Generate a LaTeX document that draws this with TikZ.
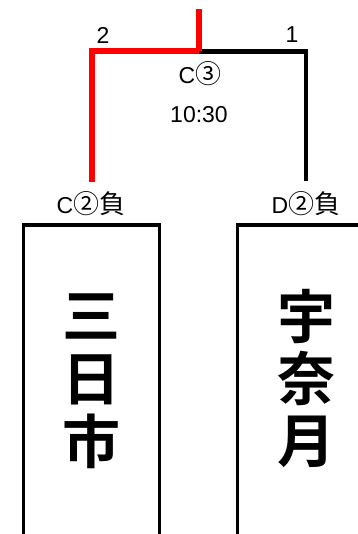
\documentclass[tikz,border=0pt]{standalone}
\usepackage{fontspec}
\setmainfont{Liberation Sans}
\newfontfamily\cjk{Noto Sans CJK JP}
\newfontfamily\cjkbold{Noto Sans CJK JP Bold}
\newcommand{\cjkmid}[1]{{\cjk\fontsize{26}{26}\selectfont #1}}
\begin{document}
\begin{tikzpicture}[x=1pt,y=-1pt,
  win/.style={draw=red,line width=6pt},
  lose/.style={draw=black,line width=4.5pt},
  boxline/.style={draw=black,line width=3pt},
  small/.style={inner sep=0pt,font=\fontsize{23}{23}\selectfont},
  big/.style={inner sep=0pt,font=\cjkbold\fontsize{58}{58}\selectfont}]
\useasboundingbox (0,0) rectangle (357,534);
% bracket coordinates
\coordinate (top) at (198.5,9);
\coordinate (mid) at (198.5,51.5);
\coordinate (lt) at (92,51.5);
\coordinate (lb) at (92,182);
\coordinate (rt) at (306,51.5);
\coordinate (rb) at (306,181);
\draw[lose] (mid) -- (rt) -- (rb);
\draw[win,line cap=butt] (top) -- (mid);
\draw[win] (mid) -- (lt) -- (lb);
% labels
\node[small] (n2) at (103,35) {2};
\node[small] (n1) at (292,35) {1};
\node[small] (c3) at (200,74) {C\cjkmid{③}};
\node[small] (time) at (199,115) {10:30};
\node[small] (lab1) at (91,204) {C\cjkmid{②負}};
\node[small] (lab2) at (306,204) {D\cjkmid{②負}};
% boxes (open at bottom/right)
\draw[boxline] (23,545) -- (23,225) -- (159,225) -- (159,545);
\draw[boxline] (237,545) -- (237,225) -- (370,225);
% names
\node[big] (a1) at (91,316) {三};
\node[big] (a2) at (91,380) {日};
\node[big] (a3) at (91,441) {市};
\node[big] (b1) at (306,316) {宇};
\node[big] (b2) at (306,378) {奈};
\node[big] (b3) at (306,442) {月};
\end{tikzpicture}
\end{document}
